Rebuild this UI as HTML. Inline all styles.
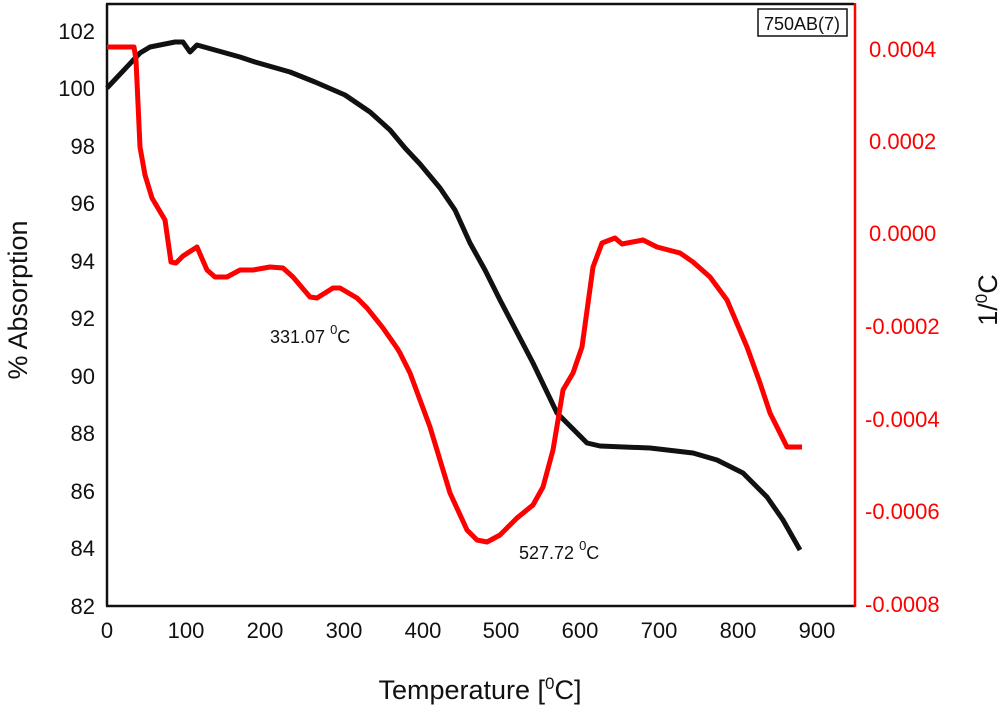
<!DOCTYPE html><html><head><style>body{margin:0;background:#fff}</style></head><body>
<svg width="1005" height="709" xmlns="http://www.w3.org/2000/svg" font-family="Liberation Sans, Arial, sans-serif">
<rect width="1005" height="709" fill="#fff"/>
<line x1="107" y1="4" x2="107" y2="606" stroke="#111" stroke-width="2.5"/>
<line x1="106" y1="606" x2="855" y2="606" stroke="#111" stroke-width="2.5"/>
<line x1="106" y1="4" x2="854" y2="4" stroke="#111" stroke-width="2.5"/>
<line x1="855" y1="3" x2="855" y2="607" stroke="#f00" stroke-width="2.5"/>
<g font-size="22" fill="#111" text-anchor="end">
<text x="95" y="39">102</text><text x="95" y="96">100</text><text x="95" y="154">98</text><text x="95" y="211">96</text><text x="95" y="269">94</text><text x="95" y="326">92</text><text x="95" y="384">90</text><text x="95" y="441">88</text><text x="95" y="499">86</text><text x="95" y="556">84</text><text x="95" y="614">82</text>
</g>
<g font-size="22" fill="#111" text-anchor="middle">
<text x="107" y="638">0</text><text x="186" y="638">100</text><text x="265" y="638">200</text><text x="344" y="638">300</text><text x="423" y="638">400</text><text x="501" y="638">500</text><text x="580" y="638">600</text><text x="659" y="638">700</text><text x="738" y="638">800</text><text x="817" y="638">900</text>
</g>
<g font-size="22" fill="#f00">
<text x="869" y="57">0.0004</text><text x="869" y="149">0.0002</text><text x="869" y="241">0.0000</text><text x="865" y="334">-0.0002</text><text x="865" y="427">-0.0004</text><text x="865" y="519">-0.0006</text><text x="865" y="612">-0.0008</text>
</g>
<text x="480" y="699" font-size="27" text-anchor="middle" fill="#111">Temperature [<tspan font-size="17" dy="-10">0</tspan><tspan dy="10">C]</tspan></text>
<text transform="translate(27,300) rotate(-90)" font-size="27" text-anchor="middle" fill="#111">% Absorption</text>
<text transform="translate(997,300) rotate(-90)" font-size="27" text-anchor="middle" fill="#111">1/<tspan font-size="17" dy="-10">0</tspan><tspan dy="10">C</tspan></text>
<rect x="758" y="9" width="89" height="27" fill="#fff" stroke="#111" stroke-width="1.5"/>
<text x="802" y="30" font-size="18" text-anchor="middle" fill="#111">750AB(7)</text>
<text x="270" y="343" font-size="18" fill="#111">331.07 <tspan font-size="13" dy="-9">0</tspan><tspan dy="9">C</tspan></text>
<text x="519" y="559" font-size="18" fill="#111">527.72 <tspan font-size="13" dy="-9">0</tspan><tspan dy="9">C</tspan></text>
<polyline fill="none" stroke="#111" stroke-width="5" stroke-linejoin="round" points="107,88 140,53 150,47 165,44 175,42 183,42 190,52 197,45 240,57 255,62 290,72 315,82 345,95 370,112 390,130 405,148 420,164 440,188 455,210 470,243 485,270 500,300 533,363 557,413 587,443 600,446 650,448 693,453 717,460 743,473 767,497 783,520 800,550"/>
<polyline fill="none" stroke="#f00" stroke-width="5" stroke-linejoin="round" points="107,47 134,47 136,60 140,147 145,175 152,198 165,220 171,262 176,263 183,256 197,247 207,270 215,277 227,277 240,270 253,270 270,267 283,268 293,277 310,297 317,298 333,288 340,288 357,298 367,308 383,328 397,348 400,353 410,373 430,427 450,493 467,530 477,540 487,542 500,535 517,518 533,505 543,487 553,450 563,390 573,373 582,347 593,267 602,243 615,238 622,244 643,240 657,247 680,253 693,262 710,277 727,300 747,347 760,383 770,413 787,447 802,447"/>
</svg>
</body></html>
